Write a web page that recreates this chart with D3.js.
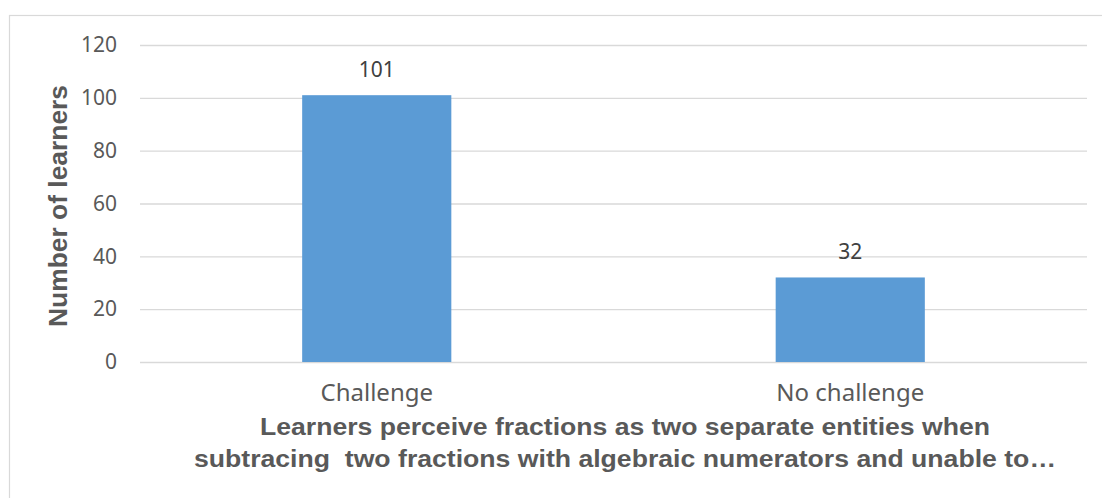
<!DOCTYPE html>
<html>
<head>
<meta charset="utf-8">
<script src="https://cdn.jsdelivr.net/npm/d3@7"></script>
<style>
  html, body { margin: 0; padding: 0; background: #ffffff; }
  svg { display: block; }
</style>
</head>
<body>
<div id="chart"></div>
<script>
// Category labels and learner counts
const categories = ["Challenge", "No challenge"];
const learners = [101, 32];
const yTicks = [0, 20, 40, 60, 80, 100, 120];
const yTitle = "Number of learners";
const xTitleLines = [
  "Learners perceive fractions as two separate entities when",
  "subtracing  two fractions with algebraic numerators and unable to\u2026"
];

const W = 1102, H = 498;
const plot = { left: 140, right: 1087, top: 45, bottom: 362 };

const svg = d3.select("#chart").append("svg")
  .attr("width", W).attr("height", H);

// Chart-area frame
svg.append("rect")
  .attr("x", 9.5).attr("y", 15.5)
  .attr("width", W + 20).attr("height", H + 20)
  .attr("fill", "#ffffff")
  .attr("stroke", "#d9d9d9").attr("stroke-width", 1.2);

const x = d3.scaleBand()
  .domain(categories)
  .range([plot.left, plot.right])
  .paddingInner(0.685)
  .paddingOuter(0.3425);

const y = d3.scaleLinear()
  .domain([0, 120])
  .range([plot.bottom, plot.top]);

// Horizontal gridlines
const yAxis = d3.axisLeft(y)
  .tickValues(yTicks)
  .tickSize(-(plot.right - plot.left))
  .tickPadding(23)
  .tickFormat(d3.format("d"));

const gy = svg.append("g")
  .attr("transform", `translate(${plot.left},0)`)
  .call(yAxis);
gy.select(".domain").remove();
gy.selectAll(".tick line")
  .attr("stroke", "#d9d9d9").attr("stroke-width", 1.3);
gy.selectAll(".tick text")
  .attr("fill", "#595959")
  .style("font-family", "'Noto Sans', 'Open Sans', sans-serif")
  .style("font-size", "21px");

// Bars
svg.append("g").selectAll("rect")
  .data(categories)
  .join("rect")
  .attr("x", d => x(d))
  .attr("y", (d, i) => y(learners[i]))
  .attr("width", x.bandwidth())
  .attr("height", (d, i) => y(0) - y(learners[i]))
  .attr("fill", "#5b9bd5");

// Value labels above bars
svg.append("g").selectAll("text")
  .data(categories)
  .join("text")
  .attr("x", d => x(d) + x.bandwidth() / 2)
  .attr("y", (d, i) => y(learners[i]) - 18)
  .attr("text-anchor", "middle")
  .attr("fill", "#404040")
  .style("font-family", "'Noto Sans', 'Open Sans', sans-serif")
  .style("font-size", "21px")
  .text((d, i) => learners[i]);

// Category axis labels
const xAxis = d3.axisBottom(x).tickSize(0).tickPadding(22);
const gx = svg.append("g")
  .attr("transform", `translate(0,${plot.bottom})`)
  .call(xAxis);
gx.select(".domain").remove();
gx.selectAll(".tick text")
  .attr("fill", "#595959")
  .style("font-family", "'Noto Sans', 'Open Sans', sans-serif")
  .style("font-size", "24px");

// Y-axis title
svg.append("text")
  .attr("transform", `translate(67,${(plot.top + plot.bottom) / 2 + 2.5}) rotate(-90)`)
  .attr("text-anchor", "middle")
  .attr("fill", "#595959")
  .attr("textLength", 242)
  .attr("lengthAdjust", "spacingAndGlyphs")
  .style("font-family", "'Liberation Sans', Arial, sans-serif")
  .style("font-weight", "bold")
  .style("font-size", "26px")
  .text(yTitle);

// X-axis title (two lines)
const xTitleWidths = [730, 862];
svg.append("g").selectAll("text")
  .data(xTitleLines)
  .join("text")
  .attr("x", 625)
  .attr("y", (d, i) => 435 + i * 32)
  .attr("text-anchor", "middle")
  .attr("fill", "#595959")
  .attr("textLength", (d, i) => xTitleWidths[i])
  .attr("lengthAdjust", "spacingAndGlyphs")
  .style("white-space", "pre")
  .style("font-family", "'Liberation Sans', Arial, sans-serif")
  .style("font-weight", "bold")
  .style("font-size", "23px")
  .text(d => d);
</script>
</body>
</html>
